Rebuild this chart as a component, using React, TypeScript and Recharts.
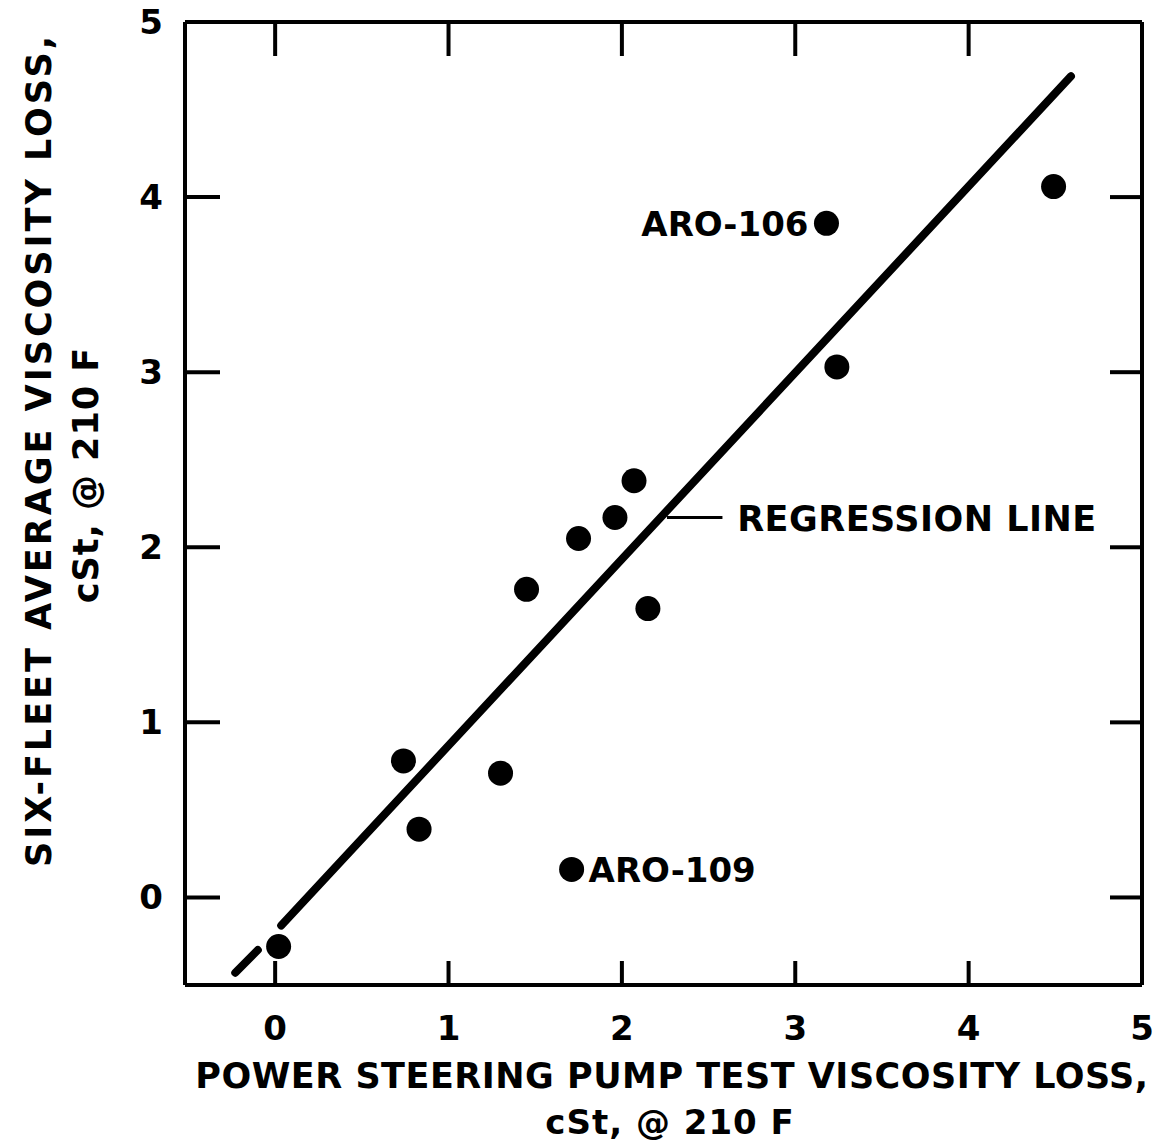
import React from "react";
import { ScatterChart, Scatter, XAxis, YAxis } from "recharts";

// measured points: power steering pump test loss vs six-fleet average loss
const pumpLoss = [0.02, 0.74, 0.83, 1.3, 1.45, 1.75, 1.96, 2.07, 2.15, 1.71, 3.18, 3.24, 4.49];
const fleetLoss = [-0.28, 0.78, 0.39, 0.71, 1.76, 2.05, 2.17, 2.38, 1.65, 0.16, 3.85, 3.03, 4.06];
const pointNames = ["", "", "", "", "", "", "", "", "", "ARO-109", "ARO-106", "", ""];

// regression line as drawn (solid part and short dashed extension)
const regressionX = [0.035, 4.59];
const regressionY = [-0.16, 4.69];
const extensionX = [-0.23, -0.1];
const extensionY = [-0.43, -0.3];

// leader to the "REGRESSION LINE" note
const leaderX = [2.26, 2.58];
const leaderY = [2.17, 2.17];
const noteX = [2.665];
const noteY = [2.17];
const noteText = ["REGRESSION LINE"];

const xTicks = [0, 1, 2, 3, 4, 5];
const yTicks = [0, 1, 2, 3, 4, 5];
const topTicks = [0, 1, 2, 3, 4];
const rightTicks = [0, 1, 2, 3, 4];

const xTitle = ["POWER STEERING PUMP TEST VISCOSITY LOSS,", "cSt, @ 210 F"];
const yTitle = ["SIX-FLEET AVERAGE VISCOSITY LOSS,", "cSt, @ 210 F"];

const W = 1173;
const H = 1142;
const PLOT = { left: 185, top: 22, right: 1142, bottom: 985 };
const AX = { bottom: 50, top: 10, left: 60, right: 10 };
const FONT = '"DejaVu Sans", Arial, sans-serif';
const INK = "#000";

const points = pumpLoss.map((x, i) => ({ x, y: fleetLoss[i], name: pointNames[i] }));
const regression = regressionX.map((x, i) => ({ x, y: regressionY[i] }));
const extension = extensionX.map((x, i) => ({ x, y: extensionY[i] }));
const leader = leaderX.map((x, i) => ({ x, y: leaderY[i] }));
const note = noteX.map((x, i) => ({ x, y: noteY[i], text: noteText[i] }));

const textStyle = {
  fontFamily: FONT,
  fontWeight: 700,
  fill: INK,
};

function Dot(props: any) {
  const { cx, cy, payload } = props;
  const name = payload?.name;
  const right = name === "ARO-109";
  return (
    <g>
      <circle cx={cx} cy={cy} r={12.5} fill={INK} />
      {name ? (
        <text
          x={right ? cx + 17 : cx - 18}
          y={cy + 13}
          textAnchor={right ? "start" : "end"}
          fontSize={34}
          style={textStyle}
        >
          {name}
        </text>
      ) : null}
    </g>
  );
}

function Note(props: any) {
  const { cx, cy, payload } = props;
  return (
    <text x={cx} y={cy + 13} textAnchor="start" fontSize={35} letterSpacing={0.5} style={textStyle}>
      {payload.text}
    </text>
  );
}

const none = () => <g />;

function BottomTick(props: any) {
  const { x, payload } = props;
  return (
    <g>
      <line x1={x} x2={x} y1={PLOT.bottom} y2={PLOT.bottom - 24} stroke={INK} strokeWidth={4} />
      <text x={x} y={1040} textAnchor="middle" fontSize={34} style={textStyle}>
        {payload.value}
      </text>
    </g>
  );
}

function TopTick(props: any) {
  const { x } = props;
  return <line x1={x} x2={x} y1={PLOT.top} y2={PLOT.top + 34} stroke={INK} strokeWidth={4} />;
}

function LeftTick(props: any) {
  const { y, payload } = props;
  return (
    <g>
      <line x1={PLOT.left} x2={PLOT.left + 35} y1={y} y2={y} stroke={INK} strokeWidth={4} />
      <text x={151} y={y + 12} textAnchor="middle" fontSize={34} style={textStyle}>
        {payload.value}
      </text>
    </g>
  );
}

function RightTick(props: any) {
  const { y } = props;
  return <line x1={PLOT.right - 32} x2={PLOT.right} y1={y} y2={y} stroke={INK} strokeWidth={4} />;
}

export default function App() {
  const axisLine = { stroke: INK, strokeWidth: 4 };
  return (
    <div style={{ position: "absolute", left: 0, top: 0, width: W, height: H, background: "#fff" }}>
      <ScatterChart
        width={W}
        height={H}
        margin={{
          top: PLOT.top - AX.top,
          right: W - PLOT.right - AX.right,
          bottom: H - PLOT.bottom - AX.bottom,
          left: PLOT.left - AX.left,
        }}
      >
        <XAxis
          type="number"
          dataKey="x"
          domain={[-0.52, 5]}
          ticks={xTicks}
          interval={0}
          height={AX.bottom}
          axisLine={axisLine}
          tickLine={false}
          tick={BottomTick}
          allowDataOverflow
        />
        <XAxis
          xAxisId="top"
          orientation="top"
          type="number"
          dataKey="x"
          domain={[-0.52, 5]}
          ticks={topTicks}
          interval={0}
          height={AX.top}
          axisLine={axisLine}
          tickLine={false}
          tick={TopTick}
          allowDataOverflow
        />
        <YAxis
          type="number"
          dataKey="y"
          domain={[-0.5, 5]}
          ticks={yTicks}
          interval={0}
          width={AX.left}
          axisLine={axisLine}
          tickLine={false}
          tick={LeftTick}
          allowDataOverflow
        />
        <YAxis
          yAxisId="right"
          orientation="right"
          type="number"
          dataKey="y"
          domain={[-0.5, 5]}
          ticks={rightTicks}
          interval={0}
          width={AX.right}
          axisLine={axisLine}
          tickLine={false}
          tick={RightTick}
          allowDataOverflow
        />
        <Scatter
          data={regression}
          shape={none}
          line={{ stroke: INK, strokeWidth: 8, strokeLinecap: "round" }}
          lineType="joint"
          isAnimationActive={false}
        />
        <Scatter
          data={extension}
          shape={none}
          line={{ stroke: INK, strokeWidth: 8, strokeLinecap: "round" }}
          lineType="joint"
          isAnimationActive={false}
        />
        <Scatter
          data={leader}
          shape={none}
          line={{ stroke: INK, strokeWidth: 3 }}
          lineType="joint"
          isAnimationActive={false}
        />
        <Scatter data={note} shape={Note} isAnimationActive={false} />
        <Scatter data={points} shape={Dot} isAnimationActive={false} />
      </ScatterChart>
      <svg
        width={W}
        height={H}
        style={{ position: "absolute", left: 0, top: 0, pointerEvents: "none" }}
      >
        <text x={672} y={1088} textAnchor="middle" fontSize={35} letterSpacing={0.5} style={textStyle}>
          {xTitle[0]}
        </text>
        <text x={670} y={1134} textAnchor="middle" fontSize={34} letterSpacing={1} style={textStyle}>
          {xTitle[1]}
        </text>
        <text
          x={51}
          y={450}
          transform="rotate(-90 51 450)"
          textAnchor="middle"
          fontSize={35}
          letterSpacing={3}
          style={textStyle}
        >
          {yTitle[0]}
        </text>
        <text
          x={98}
          y={475}
          transform="rotate(-90 98 475)"
          textAnchor="middle"
          fontSize={35}
          letterSpacing={1}
          style={textStyle}
        >
          {yTitle[1]}
        </text>
      </svg>
    </div>
  );
}
